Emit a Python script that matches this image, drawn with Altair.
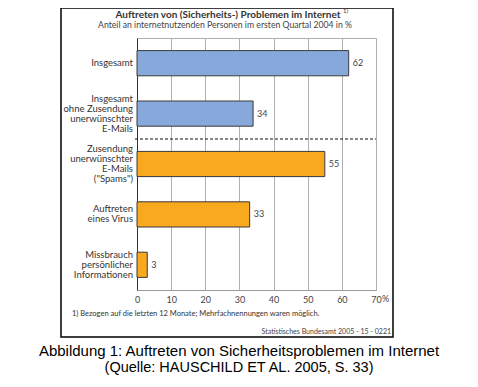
import altair as alt
import pandas as pd

categories = [
    "Insgesamt",
    "Insgesamt\nohne Zusendung\nunerwünschter\nE-Mails",
    "Zusendung\nunerwünschter\nE-Mails\n(\"Spams\")",
    "Auftreten\neines Virus",
    "Missbrauch\npersönlicher\nInformationen",
]
values = [62, 34, 55, 33, 3]
groups = ["gesamt", "gesamt", "einzeln", "einzeln", "einzeln"]
x_ticks = [0, 10, 20, 30, 40, 50, 60, 70]

FONT = "Lato"
LH = 10

df = pd.DataFrame({"cat": categories, "val": values, "grp": groups})
one = pd.DataFrame({"d": [0]})

W, H = 239, 252
PL, PT = 129, 30

x_scale = alt.Scale(domain=[0, 70], nice=False)
y_scale = alt.Scale(domain=categories, paddingInner=0.5, paddingOuter=0.25)
y_axis = alt.Axis(title=None, ticks=False, domain=True, domainColor="#333333",
                  domainWidth=1, labels=False, grid=False)
x_axis = alt.Axis(title=None, values=x_ticks, grid=True, gridColor="#b0b0b0",
                  gridWidth=1, ticks=False, domain=True, domainColor="#9a9a9a",
                  labelFont=FONT, labelFontSize=9, labelColor="#444444",
                  labelPadding=5, labelFlush=False, labelOverlap=False)

x_enc = alt.X("val:Q", scale=x_scale, axis=x_axis)
y_enc = alt.Y("cat:N", sort=categories, scale=y_scale, axis=y_axis)

bars = alt.Chart(df).mark_bar(stroke="#3a3a3a", strokeWidth=1).encode(
    x=x_enc, y=y_enc,
    color=alt.Color("grp:N", scale=alt.Scale(domain=["gesamt", "einzeln"],
                                              range=["#86a8da", "#f9a91d"]), legend=None),
)
labels = alt.Chart(df).mark_text(align="left", baseline="middle", dx=4, font=FONT,
                                 fontSize=9, color="#444444").encode(
    x=x_enc, y=y_enc, text="val:Q")

ylabels = alt.Chart(df).transform_calculate(
    lines="split(datum.cat, '\\n')",
    n="length(split(datum.cat, '\\n'))",
).mark_text(align="right", baseline="middle", font=FONT, fontSize=9.5, lineHeight=LH,
            color="#333333", dy=alt.expr(f"-(datum.n - 1) * {LH} / 2")).encode(
    x=alt.value(-4), y=y_enc, text="lines:N")

pct = alt.Chart(pd.DataFrame({"val": [70], "t": ["%"]})).mark_text(
    align="left", baseline="top", dx=6, font=FONT, fontSize=9, color="#444444").encode(
    x=x_enc, y=alt.value(H + 5), text="t:N")

sep = alt.Chart(one).mark_rule(color="#111111", strokeDash=[3, 2], strokeWidth=1.2).encode(
    x=alt.value(-2), x2=alt.value(W), y=alt.value(101))

frame = alt.Chart(one).mark_rect(fill=None, stroke="#000000", strokeWidth=1.5).encode(
    x=alt.value(-76), x2=alt.value(256), y=alt.value(-30), y2=alt.value(299))

title = alt.Chart(pd.DataFrame({"t": ["Auftreten von (Sicherheits-) Problemen im Internet"]})).mark_text(
    align="center", baseline="top", font=FONT, fontSize=10, fontWeight="bold",
    color="#333333").encode(x=alt.value(91), y=alt.value(-28), text="t:N")
sup = alt.Chart(pd.DataFrame({"t": ["1)"]})).mark_text(
    align="left", baseline="top", font=FONT, fontSize=6, color="#333333").encode(
    x=alt.value(206), y=alt.value(-30), text="t:N")
subtitle = alt.Chart(pd.DataFrame({"t": ["Anteil an internetnutzenden Personen im ersten Quartal 2004 in %"]})).mark_text(
    align="center", baseline="top", font=FONT, fontSize=8.7, color="#444444").encode(
    x=alt.value(88), y=alt.value(-17), text="t:N")

foot = alt.Chart(pd.DataFrame({"t": ["1) Bezogen auf die letzten 12 Monate; Mehrfachnennungen waren möglich."]})).mark_text(
    align="left", baseline="middle", font=FONT, fontSize=7.5, color="#333333").encode(
    x=alt.value(-65), y=alt.value(276), text="t:N")
source = alt.Chart(pd.DataFrame({"t": ["Statistisches Bundesamt 2005 - 15 - 0221"]})).mark_text(
    align="right", baseline="middle", font=FONT, fontSize=7, color="#444444").encode(
    x=alt.value(254), y=alt.value(294), text="t:N")

cap1 = alt.Chart(pd.DataFrame({"t": ["Abbildung 1: Auftreten von Sicherheitsproblemen im Internet"]})).mark_text(
    align="center", baseline="middle", font="Liberation Sans", fontSize=15, color="#000000").encode(
    x=alt.value(102), y=alt.value(313), text="t:N")
cap2 = alt.Chart(pd.DataFrame({"t": ["(Quelle: HAUSCHILD ET AL. 2005, S. 33)"]})).mark_text(
    align="center", baseline="middle", font="Liberation Sans", fontSize=14.5, color="#000000").encode(
    x=alt.value(102), y=alt.value(330), text="t:N")

chart = alt.layer(bars, labels, ylabels, pct, sep, frame, title, sup, subtitle, foot, source, cap1, cap2).properties(
    width=W, height=H,
    autosize=alt.AutoSizeParams(type="none"),
    padding={"left": PL, "top": PT, "right": 94, "bottom": 88},
    background="white",
).configure_view(stroke="#b0b0b0", strokeWidth=1)

chart.save("out.html", embed_options={"renderer": "svg", "actions": False})
